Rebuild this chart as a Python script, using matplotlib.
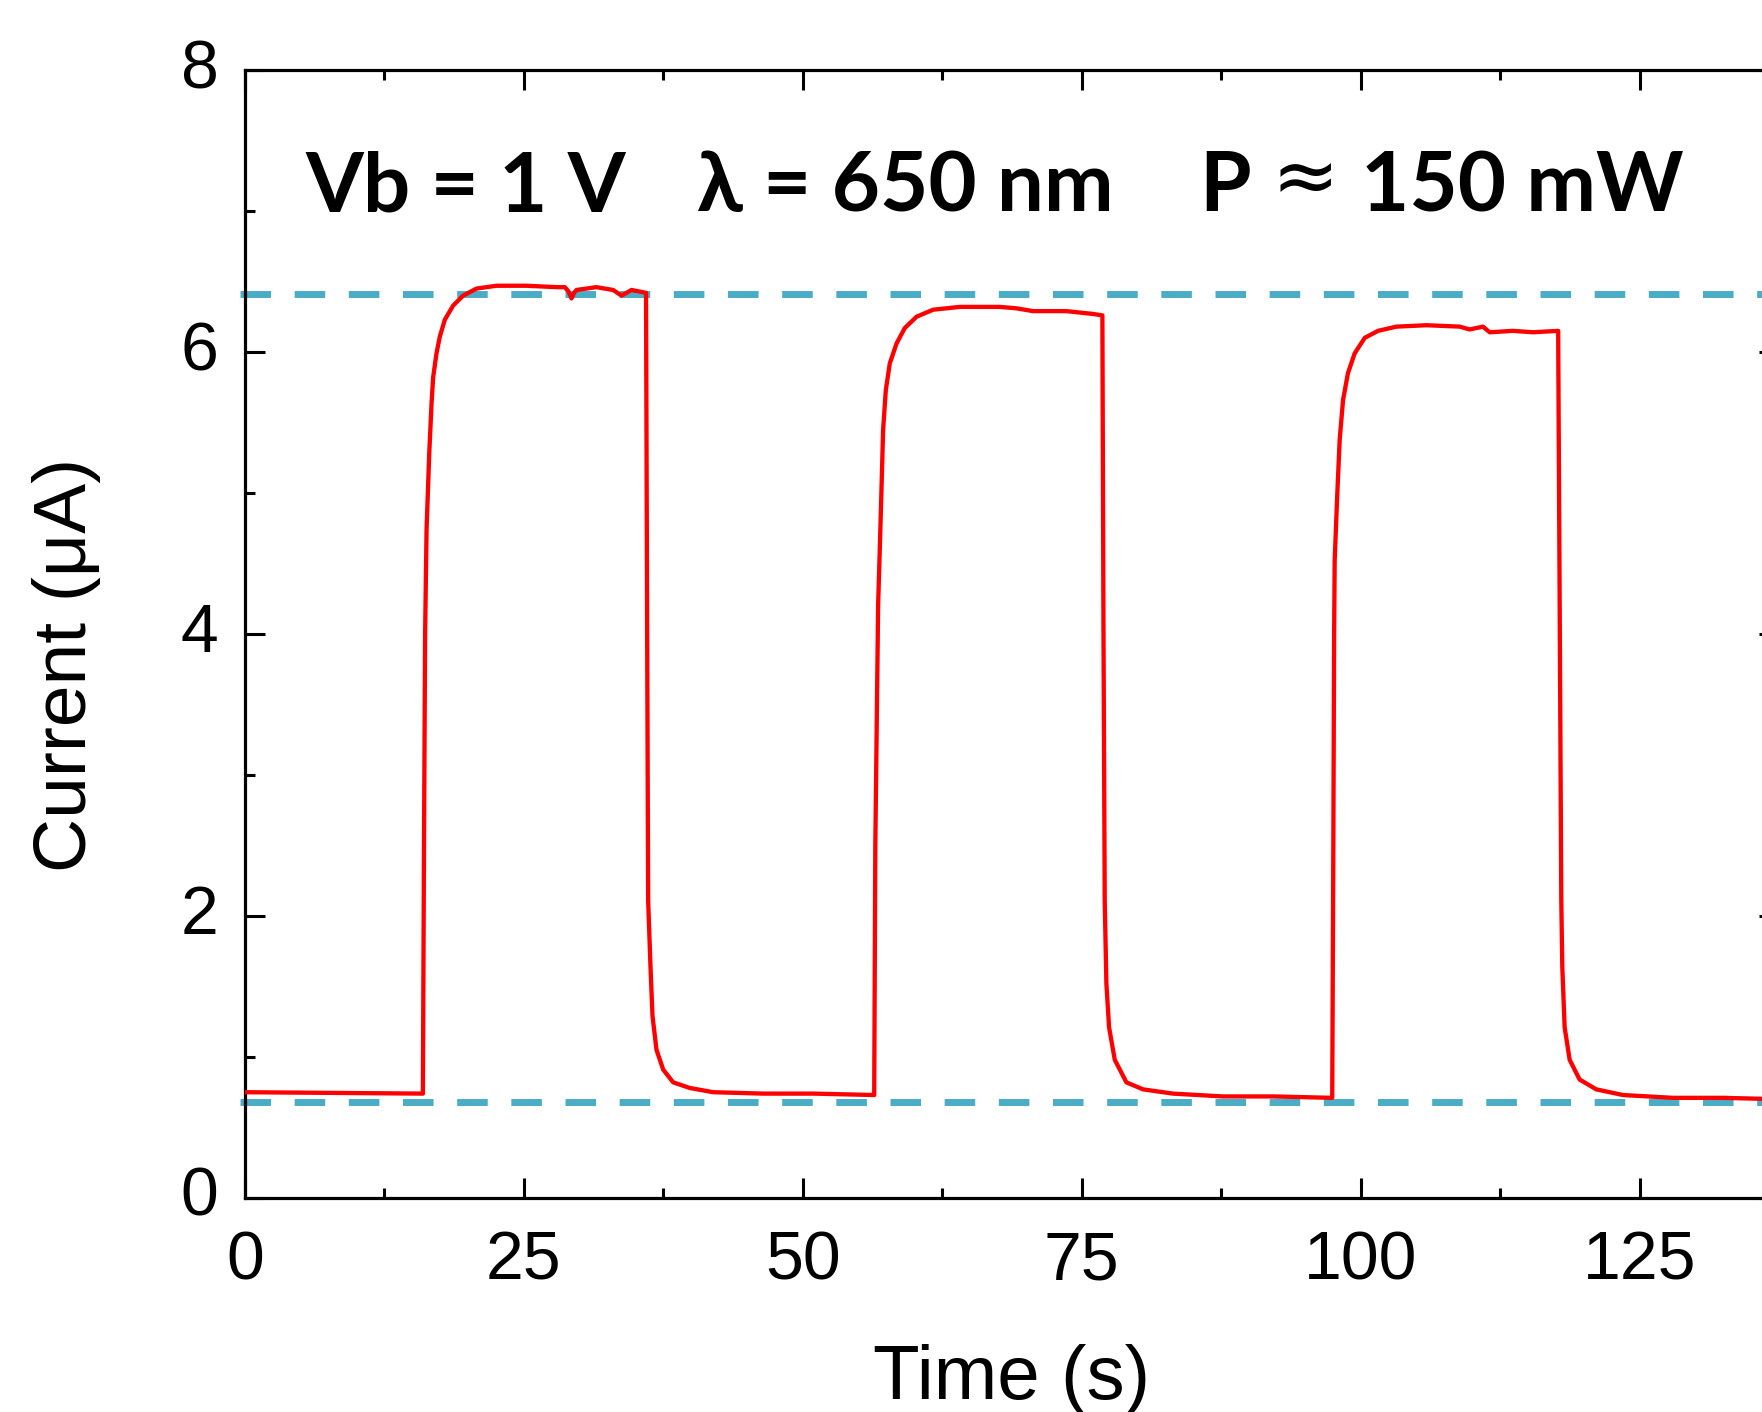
import matplotlib
matplotlib.use("Agg")
import matplotlib.pyplot as plt
from matplotlib.ticker import MultipleLocator

# photocurrent trace (time in s, current in uA)
time_s = [
    0.0, 8.0, 15.95,
    16.05, 16.15, 16.28, 16.52, 16.73, 16.87, 17.17, 17.47, 17.92, 18.67,
    19.56, 20.76, 22.55, 25.24, 27.93, 28.67, 29.0, 29.27, 29.5, 29.72,
    31.5, 33.0, 33.75, 34.65, 35.95,
    36.05, 36.14, 36.35, 36.53, 36.89, 37.49, 38.38, 39.87, 41.96, 46.44,
    50.92, 56.4,
    56.5, 56.75, 56.9, 57.05, 57.2, 57.44, 57.8, 58.4, 59.14, 60.19, 61.68,
    64.07, 67.65, 69.15, 70.64, 73.63, 76.0, 76.85,
    76.95, 77.06, 77.21, 77.45, 77.96, 79.0, 80.5, 83.18, 87.66, 92.14, 97.45,
    97.55, 97.62, 97.67, 97.88, 98.12, 98.42, 98.86, 99.46, 100.36, 101.55,
    103.2, 105.9, 108.87, 109.77, 110.96, 111.56, 113.65, 115.44, 117.7,
    117.85, 117.98, 118.07, 118.28, 118.73, 119.62, 121.12, 123.51, 127.99,
    132.47, 137.5,
]
current_ua = [
    0.75, 0.745, 0.74,
    2.5, 4.0, 4.74, 5.28, 5.64, 5.82, 5.99, 6.11, 6.23, 6.33,
    6.40, 6.45, 6.47, 6.47, 6.46, 6.46, 6.43, 6.38, 6.42, 6.44,
    6.46, 6.44, 6.40, 6.44, 6.42,
    4.0, 2.11, 1.64, 1.29, 1.05, 0.91, 0.82, 0.78, 0.75, 0.74,
    0.74, 0.73,
    2.5, 4.2, 4.60, 5.02, 5.45, 5.73, 5.92, 6.06, 6.17, 6.25, 6.30,
    6.32, 6.32, 6.31, 6.29, 6.29, 6.27, 6.26,
    4.0, 2.11, 1.52, 1.21, 0.98, 0.82, 0.77, 0.74, 0.72, 0.72, 0.71,
    2.5, 4.0, 4.52, 4.95, 5.38, 5.66, 5.85, 5.99, 6.10, 6.15,
    6.18, 6.19, 6.18, 6.16, 6.18, 6.14, 6.15, 6.14, 6.15,
    4.0, 2.11, 1.64, 1.21, 0.98, 0.84, 0.77, 0.73, 0.71,
    0.71, 0.70,
]
guide_levels = [6.41, 0.68]
x_range = (0, 137.5)
y_range = (0, 8)
x_ticks = [0, 25, 50, 75, 100, 125]
y_ticks = [0, 2, 4, 6, 8]

plt.rcParams["font.family"] = ["Liberation Sans", "DejaVu Sans"]

fig = plt.figure(figsize=(17.62, 14.12), dpi=100)
ax = fig.add_axes([0.139, 0.1516, 0.8707, 0.7988])

for level in guide_levels:
    ax.plot([-0.45, x_range[1] + 5], [level, level], color="#4BACC6", lw=5,
            dashes=(4.4, 3.4), clip_on=False, zorder=2)
ax.plot(time_s, current_ua, color="#FF0000", lw=3.1, solid_joinstyle="round",
        zorder=3)

ax.set_xlim(*x_range)
ax.set_ylim(*y_range)
ax.set_xticks(x_ticks)
ax.set_yticks(y_ticks)
ax.xaxis.set_minor_locator(MultipleLocator(12.5))
ax.yaxis.set_minor_locator(MultipleLocator(1))
ax.tick_params(which="both", direction="in", top=True, right=True, width=2.2)
ax.tick_params(which="major", length=14.5, labelsize=49)
ax.tick_params(which="minor", length=7.2)
ax.tick_params(axis="x", which="major", pad=23)
ax.tick_params(axis="y", which="major", pad=19)
for lab in ax.get_yticklabels():
    lab.set_verticalalignment("center")
for spine in ax.spines.values():
    spine.set_linewidth(2.3)

ax.set_xlabel("Time (s)", fontsize=55, labelpad=36)
ax.set_ylabel("Current (\u03bcA)", fontsize=54)
ax.yaxis.set_label_coords(-0.094, 0.4725)

# annotation on the plot: bias, wavelength, power
bold = dict(fontsize=60, fontweight="bold", family=["Lato", "DejaVu Sans"],
            ha="left", va="baseline")
ax.text(5.47, 7.0, "Vb = 1 V", **bold)
ax.text(40.5, 7.0, "\u03bb = 650 nm", **bold)
ax.text(85.5, 7.0, "P", **bold)
ax.text(92.0, 7.06, "\u2248", fontsize=58, family="DejaVu Sans",
        ha="left", va="baseline")
ax.text(100.0, 7.0, "150 mW", **bold)

fig.savefig("out.png", dpi=100)
